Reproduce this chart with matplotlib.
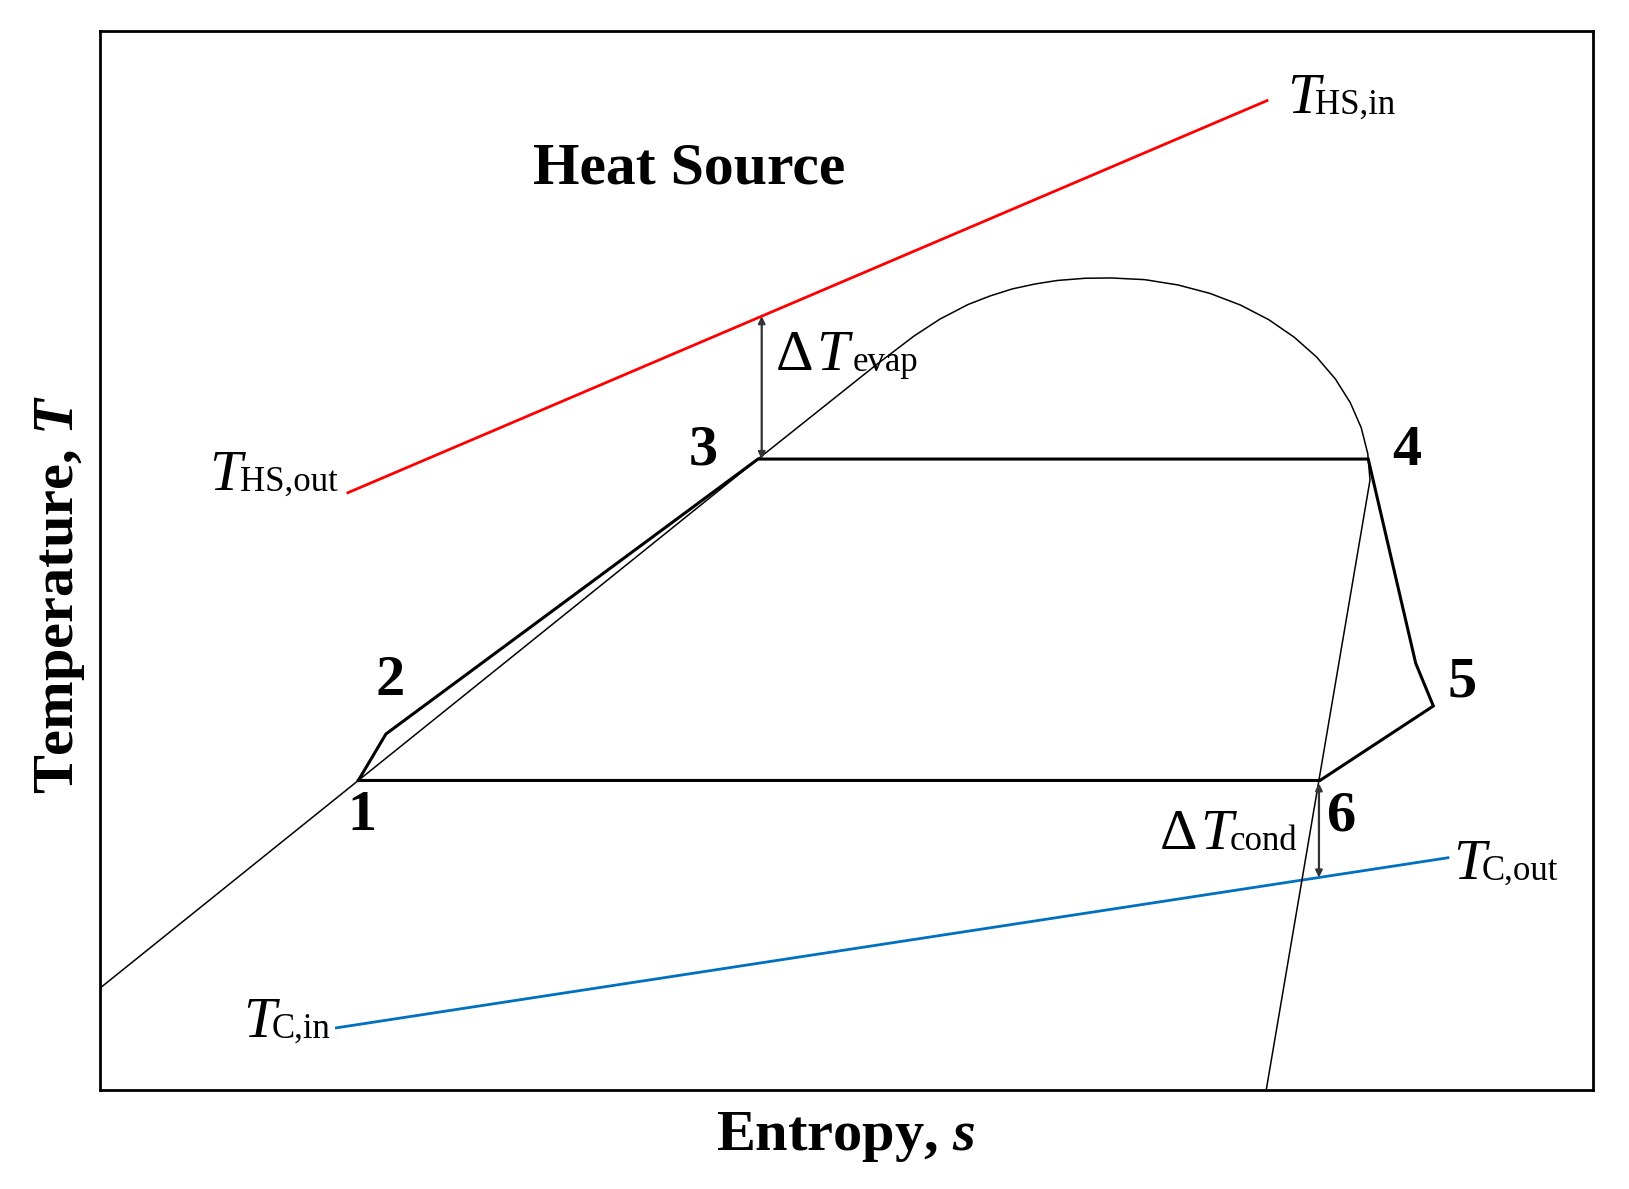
import numpy as np
import matplotlib
matplotlib.use("Agg")
import matplotlib.pyplot as plt

plt.rcParams['font.family'] = ['Liberation Serif', 'DejaVu Serif']
plt.rcParams['mathtext.fontset'] = 'custom'
plt.rcParams['mathtext.rm'] = 'Liberation Serif'
plt.rcParams['mathtext.it'] = 'Liberation Serif:italic'
plt.rcParams['mathtext.bf'] = 'Liberation Serif:bold'
plt.rcParams['mathtext.bfit'] = 'Liberation Serif:italic:bold'

# ---------------- data (schematic T-s diagram, arbitrary units 0-10) ----------------
# cycle state points 1..6 (with point-2 kink and a knee between 4 and 5)
cycle_s = [1.733, 1.918, 4.409, 8.495, 8.813, 8.931, 8.172, 1.733]
cycle_T = [2.923, 3.362, 5.958, 5.958, 4.029, 3.626, 2.923, 2.923]

# saturation dome (liquid line -> critical region -> vapour line)
dome_s = [0.000, 1.733, 4.409, 5.199, 5.454, 5.628, 5.815, 5.963, 6.110, 6.264,
          6.411, 6.599, 6.773, 6.999, 7.221, 7.436, 7.640, 7.829, 7.999, 8.149,
          8.275, 8.375, 8.448, 8.492, 8.495, 8.507, 7.812]
dome_T = [0.958, 2.923, 5.958, 6.846, 7.120, 7.280, 7.417, 7.498, 7.564, 7.611,
          7.644, 7.665, 7.668, 7.652, 7.602, 7.522, 7.412, 7.274, 7.109, 6.922,
          6.714, 6.490, 6.254, 6.009, 5.958, 5.760, 0.000]

# heat source (red) and cooling medium (blue) lines
hs_s = [1.655, 7.826]
hs_T = [5.635, 9.348]
c_s = [1.577, 9.038]
c_T = [0.585, 2.195]

# pinch arrows
evap_arrow_s = 4.434
cond_arrow_s = 8.165
cond_arrow_top = 2.896

# state labels
point_labels = ['1', '2', '3', '4', '5', '6']
point_lab_s = [1.756, 1.945, 4.041, 8.755, 9.123, 8.317]
point_lab_T = [2.455, 3.730, 5.902, 5.902, 3.720, 2.449]

# ---------------- figure ----------------
fig = plt.figure(figsize=(16.29, 11.89), dpi=100)
ax = fig.add_axes([99.5 / 1629, 1 - 1090 / 1189, 1493.5 / 1629, 1059 / 1189])
ax.set_xlim(0, 10)
ax.set_ylim(0, 10)
ax.set_xticks([])
ax.set_yticks([])
for sp in ax.spines.values():
    sp.set_linewidth(2.0)
    sp.set_color('black')

ax.plot(hs_s, hs_T, color='#ff0000', lw=2.0, solid_capstyle='butt')
ax.plot(c_s, c_T, color='#0070c0', lw=2.0, solid_capstyle='butt')
ax.plot(dome_s, dome_T, color='black', lw=1.1, solid_joinstyle='round')
ax.plot(cycle_s, cycle_T, color='black', lw=2.2, solid_joinstyle='miter')

# pinch point arrows
evap_top = np.interp(evap_arrow_s, hs_s, hs_T)
ax.annotate('', xy=(evap_arrow_s, evap_top), xytext=(evap_arrow_s, cycle_T[2]),
            arrowprops=dict(arrowstyle='<|-|>', color='#333333', lw=1.6,
                            mutation_scale=10, shrinkA=0, shrinkB=0))
cond_bot = np.interp(cond_arrow_s, c_s, c_T)
ax.annotate('', xy=(cond_arrow_s, cond_bot), xytext=(cond_arrow_s, cond_arrow_top),
            arrowprops=dict(arrowstyle='<|-|>', color='#333333', lw=1.6,
                            mutation_scale=10, shrinkA=0, shrinkB=0))

# state point numbers
for lab, s, t in zip(point_labels, point_lab_s, point_lab_T):
    ax.text(s, t, lab, fontsize=42, fontweight='bold', ha='center', va='baseline')

ax.text(3.947, 8.558, 'Heat Source', fontsize=43, fontweight='bold',
        ha='center', va='baseline')

MAIN = 42
SUB = 25


def sym(parts):
    for (s, t, txt, style, size) in parts:
        ax.text(s, t, txt, fontsize=size, fontstyle=style, ha='left', va='baseline')


sym([(7.951, 9.229, 'T', 'italic', MAIN), (8.138, 9.216, 'HS,in', 'normal', SUB)])
sym([(0.735, 5.666, 'T', 'italic', MAIN), (0.941, 5.659, 'HS,out', 'normal', SUB)])
sym([(4.530, 6.799, '\u0394', 'normal', MAIN), (4.800, 6.799, 'T', 'italic', MAIN),
     (5.045, 6.790, 'evap', 'normal', SUB)])
sym([(7.096, 2.273, '\u0394', 'normal', MAIN), (7.368, 2.273, 'T', 'italic', MAIN),
     (7.569, 2.265, 'cond', 'normal', SUB)])
sym([(0.961, 0.496, 'T', 'italic', MAIN), (1.155, 0.490, 'C,in', 'normal', SUB)])
sym([(9.063, 1.992, 'T', 'italic', MAIN), (9.257, 1.985, 'C,out', 'normal', SUB)])

ax.set_xlabel(r'Entropy, $\mathbfit{s}$', fontsize=42, fontweight='bold', va='baseline')
ax.xaxis.set_label_coords(0.5, -(1150 - 1090) / 1059)
ax.set_ylabel(r'Temperature, $\mathbfit{T}$', fontsize=42, fontweight='bold', va='baseline')
ax.yaxis.set_label_coords((73 - 99.5) / 1493.5, (1090 - 594) / 1059)

fig.savefig('out.png', dpi=100)
